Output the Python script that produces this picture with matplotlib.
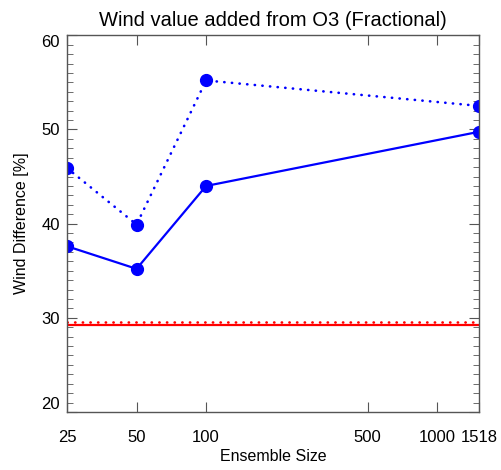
import numpy as np
from matplotlib import pyplot as plt
from matplotlib.ticker import FixedLocator, MultipleLocator, NullLocator

plt.rcParams['font.family'] = ['Liberation Sans', 'DejaVu Sans']

ens_size = [25, 50, 100, 1518]
wind_solid = [37.6, 35.2, 44.0, 49.75]
wind_dotted = [45.9, 39.9, 55.2, 52.5]
ref_solid = 29.25
ref_dotted = 29.6

xticks = [25, 50, 100, 500, 1000, 1518]
xticklabels = ["25", "50", "100", "500", "1000", "1518"]
yticks = [20, 30, 40, 50, 60]


def plot_chart():
    fig = plt.figure(figsize=(5.02, 4.70), dpi=100)
    ax = fig.add_axes([0.1335, 0.1234, 0.8207, 0.8016])

    dots = (0, (0.1, 2.8))
    ax.plot(ens_size, wind_solid, color="blue", lw=1.6, marker="o", ms=8.5)
    ax.plot(ens_size, wind_dotted, color="blue", lw=1.9, ls=dots,
            dash_capstyle="round", marker="o", ms=8.5)
    ax.axhline(ref_solid, color="red", lw=1.6)
    ax.axhline(ref_dotted, color="red", lw=1.9, ls=dots,
               dash_capstyle="round")

    ax.set_xscale("log")
    ax.set_xlim(25, 1518)
    ax.set_ylim(20, 60)
    ax.xaxis.set_major_locator(FixedLocator(xticks))
    ax.xaxis.set_minor_locator(NullLocator())
    ax.set_xticklabels(xticklabels)
    ax.set_yticks(yticks)
    ax.yaxis.set_minor_locator(MultipleLocator(1))

    frame = "#555555"
    for s in ax.spines.values():
        s.set_color(frame)
        s.set_linewidth(1.0)
    ax.tick_params(which="both", direction="in", top=True, right=True,
                   color=frame, labelsize=12)
    ax.tick_params(which="major", length=7)
    ax.tick_params(which="minor", length=4)
    ax.tick_params(axis="x", pad=13)
    ax.tick_params(axis="y", pad=5)

    labs = ax.get_yticklabels()
    labs[0].set_va("bottom")
    labs[-1].set_va("top")

    ax.set_title("Wind value added from O3 (Fractional)", fontsize=14.5, pad=7)
    ax.set_xlabel("Ensemble Size", fontsize=11.5, labelpad=3)
    ax.set_ylabel("Wind Difference [%]", fontsize=11.5, labelpad=9)

    fig.savefig("out.png", dpi=100)


if __name__ == '__main__':
    plot_chart()
